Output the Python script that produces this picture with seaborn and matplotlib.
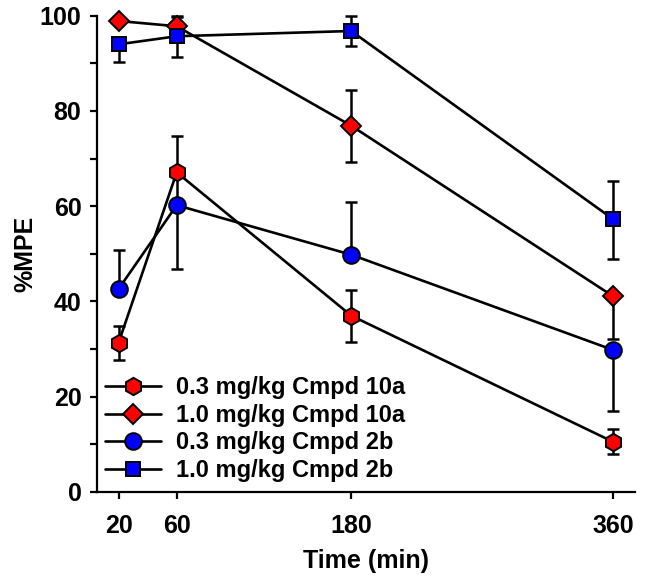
import numpy as np
import pandas as pd
import matplotlib
matplotlib.use("Agg")
import matplotlib.pyplot as plt
import seaborn as sns
from matplotlib.lines import Line2D

# time points (min)
time = [20, 60, 180, 360]

# %MPE means and error bars (lower, upper)
labels = ['0.3 mg/kg Cmpd 10a', '1.0 mg/kg Cmpd 10a', '0.3 mg/kg Cmpd 2b', '1.0 mg/kg Cmpd 2b']

mpe_10a_03 = [31.3, 67.1, 37.0, 10.5]
err_lo_10a_03 = [3.6, 7.6, 5.5, 2.5]
err_hi_10a_03 = [3.6, 7.6, 5.4, 2.6]

mpe_10a_10 = [98.9, 97.8, 76.9, 41.1]
err_lo_10a_10 = [0, 0, 7.7, 9.1]
err_hi_10a_10 = [0, 2.0, 7.5, 0]

mpe_2b_03 = [42.6, 60.2, 49.8, 29.8]
err_lo_2b_03 = [0, 13.3, 0, 12.9]
err_hi_2b_03 = [8.1, 0, 11.0, 0]

mpe_2b_10 = [94.0, 95.7, 96.8, 57.3]
err_lo_2b_10 = [3.8, 4.3, 3.1, 8.3]
err_hi_2b_10 = [0.6, 4.2, 3.1, 8.0]

colors = ['#ff0000', '#ff0000', '#0000ff', '#0000ff']
markers = ['h', 'D', 'o', 's']
msizes = [12.5, 10, 12, 10.5]

series = [
    (mpe_10a_03, err_lo_10a_03, err_hi_10a_03),
    (mpe_10a_10, err_lo_10a_10, err_hi_10a_10),
    (mpe_2b_03, err_lo_2b_03, err_hi_2b_03),
    (mpe_2b_10, err_lo_2b_10, err_hi_2b_10),
]

rows = []
for lab, (m, lo, hi) in zip(labels, series):
    for t, v, l, h in zip(time, m, lo, hi):
        rows.append({'time': t, 'mpe': v, 'lo': l, 'hi': h, 'group': lab})
df = pd.DataFrame(rows)

sns.set_style('ticks')
plt.rcParams['font.family'] = ['Liberation Sans', 'DejaVu Sans']
plt.rcParams['font.weight'] = 'bold'
plt.rcParams['text.color'] = 'black'
plt.rcParams['axes.labelcolor'] = 'black'
plt.rcParams['xtick.color'] = 'black'
plt.rcParams['ytick.color'] = 'black'
plt.rcParams['axes.edgecolor'] = 'black'

fig = plt.figure(figsize=(6.45, 5.84), dpi=100)
ax = fig.add_axes([0.150, 0.158, 0.834, 0.815])

for i, lab in enumerate(labels):
    d = df[df['group'] == lab]
    ax.errorbar(d['time'], d['mpe'], yerr=[d['lo'], d['hi']], fmt='none',
                ecolor='black', elinewidth=1.8, capsize=4, capthick=1.8,
                zorder=2, clip_on=False)
    sns.lineplot(data=d, x='time', y='mpe', ax=ax, color='black', linewidth=1.9,
                 marker=None, zorder=3, legend=False)
    ax.plot(d['time'], d['mpe'], linestyle='none', marker=markers[i],
            markersize=msizes[i], markerfacecolor=colors[i],
            markeredgecolor='black', markeredgewidth=1.4, zorder=4, clip_on=False)

ax.set_xlim(5, 375)
ax.set_ylim(0, 100)
ax.set_xticks(time)
ax.set_yticks(np.arange(0, 101, 20))
ax.set_yticks(np.arange(10, 100, 20), minor=True)
ax.tick_params(axis='both', which='both', direction='out', length=5, width=1.6,
               labelsize=18, colors='black')
ax.tick_params(axis='x', pad=11)
ax.tick_params(axis='y', pad=6)
for lbl in ax.get_xticklabels() + ax.get_yticklabels():
    lbl.set_fontweight('bold')

for s in ['top', 'right']:
    ax.spines[s].set_visible(False)
for s in ['left', 'bottom']:
    ax.spines[s].set_linewidth(1.6)

ax.set_xlabel('Time (min)', fontsize=18, fontweight='bold', labelpad=8)
ax.set_ylabel('%MPE', fontsize=18, fontweight='bold')
ax.yaxis.set_label_coords(-0.133, 0.5)
ax.yaxis.label.set_verticalalignment('center')

handles = [Line2D([0], [0], color='black', linewidth=1.9, marker=markers[i],
                  markersize=msizes[i], markerfacecolor=colors[i],
                  markeredgecolor='black', markeredgewidth=1.4)
           for i in range(4)]
leg = ax.legend(handles, labels, loc='lower left', bbox_to_anchor=(0.015, 0.02),
                frameon=False, fontsize=17, handlelength=2.4, handletextpad=0.6,
                labelspacing=0.2, borderpad=0, borderaxespad=0)
for t in leg.get_texts():
    t.set_fontweight('bold')
    t.set_color('black')

fig.savefig('out.png', dpi=100)
